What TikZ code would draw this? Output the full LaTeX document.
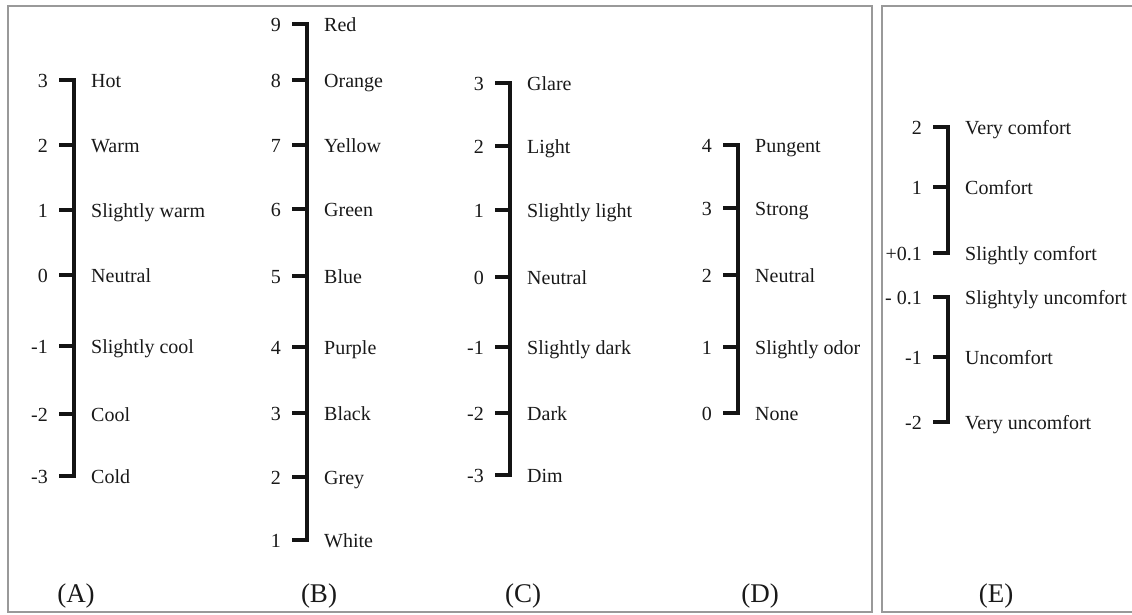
\documentclass[tikz,border=0pt]{standalone}
\usepackage{fontspec}
\setmainfont{Liberation Serif}

% one rating scale: #1 name, #2 x of the vertical bar, #3 top y, #4 bottom y,
% #5 list of tick-y/value/label
\newcommand{\ratingscale}[5]{%
  \draw[bar] (#2-15,#3) -- (#2,#3) -- (#2,#4) -- (#2-15,#4);
  \foreach \yp/\vv/\ww [count=\i] in {#5} {
    \coordinate (#1-t\i) at (#2,\yp);
    \draw[bar] (#2-15,\yp) -- (#1-t\i);
    \node[num] (#1-n\i) at (#2-26,\yp+7) {\vv};
    \node[lab] (#1-l\i) at (#2+17,\yp+7) {\ww};
  }%
}

\begin{document}
\begin{tikzpicture}[x=1pt,y=-1pt,
  bar/.style={line width=3.2pt, draw=black!92, line join=miter, line cap=butt},
  num/.style={anchor=base east, inner sep=0pt, text=black!90,
              font=\fontsize{20}{24}\selectfont},
  lab/.style={anchor=base west, inner sep=0pt, text=black!90,
              font=\fontsize{20}{24}\selectfont},
  panel/.style={anchor=base, inner sep=0pt, text=black!90,
                font=\fontsize{27}{32}\selectfont},
  frame/.style={draw=black!40, line width=1.8pt}]
\useasboundingbox (0,0) rectangle (1132,614);

% frames
\draw[frame] (8,6) rectangle (872,612);
\draw[frame] (1132,6) -- (882,6) -- (882,612) -- (1132,612);

% (A) thermal sensation
\ratingscale{A}{74}{80}{476}{80/3/Hot, 145/2/Warm, 210/1/Slightly warm,
  275/0/Neutral, 346/-1/Slightly cool, 414/-2/Cool, 476/-3/Cold}

% (B) colour
\ratingscale{B}{307}{24}{540}{24/9/Red, 80/8/Orange, 145/7/Yellow,
  209/6/Green, 276/5/Blue, 347/4/Purple, 413/3/Black, 477/2/Grey, 540/1/White}

% (C) lighting
\ratingscale{C}{510}{83}{475}{83/3/Glare, 146/2/Light, 210/1/Slightly light,
  277/0/Neutral, 347/-1/Slightly dark, 413/-2/Dark, 475/-3/Dim}

% (D) odour
\ratingscale{D}{738}{145}{413}{145/4/Pungent, 208/3/Strong, 275/2/Neutral,
  347/1/Slightly odor, 413/0/None}

% (E) overall comfort
\ratingscale{Ep}{948}{127}{253}{127/2/Very comfort, 187/1/Comfort,
  253/+0.1/Slightly comfort}
\ratingscale{Em}{948}{297}{422}{297/- 0.1/Slightyly uncomfort,
  357/-1/Uncomfort, 422/-2/Very uncomfort}

% panel letters
\node[panel] (pA) at (76,602) {(A)};
\node[panel] (pB) at (319,602) {(B)};
\node[panel] (pC) at (523,602) {(C)};
\node[panel] (pD) at (760,602) {(D)};
\node[panel] (pE) at (996,602) {(E)};
\end{tikzpicture}
\end{document}
